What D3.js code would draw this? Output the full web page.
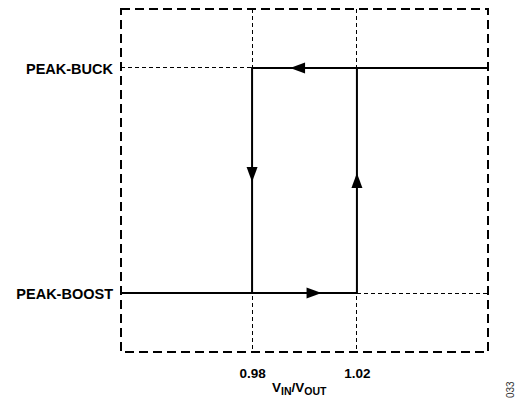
<!DOCTYPE html>
<html>
<head>
<meta charset="utf-8">
<script src="https://cdn.jsdelivr.net/npm/d3@7"></script>
<style>
    body { margin: 0; background: #fff; }
    svg text { font-family: "Liberation Sans", Arial, sans-serif; font-weight: bold; }
</style>
</head>
<body>
<div id="chart"></div>
<script>
// chart data
const levels = ["PEAK-BOOST", "PEAK-BUCK"];
const levelValues = [0, 1];
const thresholds = [0.98, 1.02];
const xDomain = [0.93, 1.07];
const yDomain = [-0.262, 1.262];

// hysteresis loop segments (x, level)
const buckPath = [[1.07, 1], [0.98, 1], [0.98, 0]];
const boostPath = [[0.93, 0], [1.02, 0], [1.02, 1]];

// arrow heads: tip position and direction
const arrows = [
    {x: 0.9945, y: 1, dir: "left"},
    {x: 1.0065, y: 0, dir: "right"},
    {x: 0.98, y: 0.493, dir: "down"},
    {x: 1.02, y: 0.533, dir: "up"}
];

// formatting constants
const width = 517;
const height = 404;
const box = {left: 121, right: 488, top: 9, bottom: 352};

const svg = d3.select("#chart")
    .append("svg")
        .attr("width", width)
        .attr("height", height);

const x = d3.scaleLinear()
    .domain(xDomain)
    .range([box.left, box.right]);

const y = d3.scaleLinear()
    .domain(yDomain)
    .range([box.bottom, box.top]);

// thin dashed guide lines
const guides = svg.append("g")
    .attr("stroke", "#000")
    .attr("stroke-width", 1)
    .attr("stroke-dasharray", "4,3")
    .attr("shape-rendering", "crispEdges")
    .attr("fill", "none");

thresholds.forEach(t => {
    guides.append("line")
        .attr("x1", x(t)).attr("x2", x(t))
        .attr("y1", y(yDomain[1])).attr("y2", y(yDomain[0]));
});

guides.append("line")
    .attr("x1", x(xDomain[0])).attr("x2", x(thresholds[0]))
    .attr("y1", y(1)).attr("y2", y(1));

guides.append("line")
    .attr("x1", x(thresholds[1])).attr("x2", x(xDomain[1]))
    .attr("y1", y(0)).attr("y2", y(0));

// dashed frame
svg.append("rect")
    .attr("x", x(xDomain[0]))
    .attr("y", y(yDomain[1]))
    .attr("width", x(xDomain[1]) - x(xDomain[0]))
    .attr("height", y(yDomain[0]) - y(yDomain[1]))
    .attr("fill", "none")
    .attr("stroke", "#000")
    .attr("stroke-width", 2)
    .attr("stroke-dasharray", "9,5");

// hysteresis loop
const line = d3.line()
    .x(d => x(d[0]))
    .y(d => y(d[1]));

[buckPath, boostPath].forEach(p => {
    svg.append("path")
        .attr("d", line(p))
        .attr("fill", "none")
        .attr("stroke", "#000")
        .attr("stroke-width", 2);
});

// arrow heads
const rot = {right: 0, down: 90, left: 180, up: 270};
svg.append("g")
    .selectAll("path")
    .data(arrows)
    .join("path")
        .attr("d", "M0,0 L-15,-5.5 L-15,5.5 Z")
        .attr("transform", d => `translate(${x(d.x)}, ${y(d.y)}) rotate(${rot[d.dir]})`)
        .attr("fill", "#000");

// y labels
const yAxis = svg.append("g")
    .attr("transform", `translate(${box.left - 8}, 0)`)
    .call(d3.axisLeft(y)
        .tickValues(levelValues)
        .tickFormat((d, i) => levels[i])
        .tickSize(0)
        .tickPadding(0));
yAxis.select(".domain").remove();
yAxis.selectAll("text")
    .style("font-size", "14.5px")
    .attr("font-family", null)
    .attr("fill", "#000")
    .attr("dy", "0.36em");

// x labels
const xAxis = svg.append("g")
    .attr("transform", `translate(0, ${box.bottom})`)
    .call(d3.axisBottom(x)
        .tickValues(thresholds)
        .tickFormat(d3.format(".2f"))
        .tickSize(0)
        .tickPadding(16));
xAxis.select(".domain").remove();
xAxis.selectAll("text")
    .style("font-size", "13.5px")
    .attr("font-family", null)
    .attr("fill", "#000");

// axis title
const title = svg.append("text")
    .attr("x", 272)
    .attr("y", 392)
    .attr("text-anchor", "start")
    .style("font-size", "13.5px")
    .attr("fill", "#000");
title.append("tspan").text("V");
title.append("tspan").style("font-size", "10.5px").attr("dy", 3).text("IN");
title.append("tspan").attr("dy", -3).text("/V");
title.append("tspan").style("font-size", "10.5px").attr("dy", 3).text("OUT");

// figure number
svg.append("text")
    .attr("transform", "translate(514, 398) rotate(-90)")
    .style("font-size", "10px")
    .style("font-weight", "normal")
    .attr("fill", "#333")
    .text("033");
</script>
</body>
</html>
